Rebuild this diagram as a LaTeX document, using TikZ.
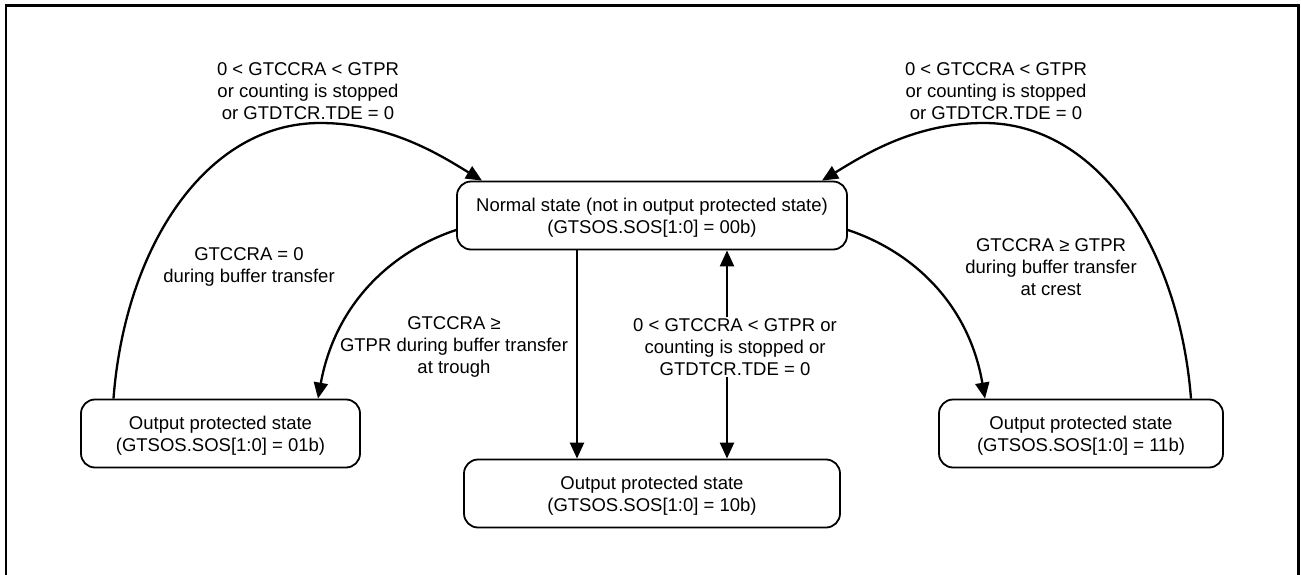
\documentclass[tikz,border=0pt]{standalone}
\usepackage{fontspec}
\setmainfont{Liberation Sans}
\usetikzlibrary{arrows.meta}

\begin{document}
\begin{tikzpicture}[x=1pt, y=1pt,
  >={Triangle[length=16pt,width=14pt]},
  state/.style={draw, line width=1.8pt, rounded corners=14pt, fill=white,
                minimum height=68pt, align=center, inner sep=0pt, text depth=0pt,
                font=\fontsize{18.5}{22}\selectfont},
  cond/.style={align=center, inner sep=1pt, font=\fontsize{18.5}{22}\selectfont},
  trans/.style={line width=2.3pt, ->},
]
\useasboundingbox (0,0) rectangle (1301,-575);
\draw[line width=2.2pt] (6,-575) -- (6,-5.5) -- (1298.5,-5.5) -- (1298.5,-575);

% states
\node[state, minimum width=390pt] (s00) at (652,-215.5) {Normal state (not in output protected state)\\(GTSOS.SOS[1:0] = 00b)};
\node[state, minimum width=279pt] (s01) at (220.5,-433.5) {Output protected state\\(GTSOS.SOS[1:0] = 01b)};
\node[state, minimum width=376pt] (s10) at (652,-493.5) {Output protected state\\(GTSOS.SOS[1:0] = 10b)};
\node[state, minimum width=284pt] (s11) at (1081,-433.5) {Output protected state\\(GTSOS.SOS[1:0] = 11b)};

% transitions
\draw[trans] ([xshift=-107pt]s01.north) .. controls (125,-247) and (206,-123) .. (320,-123)
  .. controls (390,-123) and (440,-155) .. ([xshift=-170pt]s00.north);
\draw[trans] ([xshift=110pt]s11.north) .. controls (1179,-247) and (1098,-123) .. (984,-123)
  .. controls (914,-123) and (864,-155) .. ([xshift=170pt]s00.north);
\draw[trans] ([yshift=-14.5pt]s00.west) .. controls (390,-252) and (335,-305) .. ([xshift=97.5pt]s01.north);
\draw[trans] ([yshift=-14.5pt]s00.east) .. controls (914,-252) and (969,-305) .. ([xshift=-96pt]s11.north);
\draw[trans] ([xshift=-75pt]s00.south) -- ([xshift=-75pt]s10.north);
\draw[trans, <->] ([xshift=75pt]s00.south) -- ([xshift=75pt]s10.north);

% conditions
\node[cond] (c1) at (308,-91) {0 < GTCCRA < GTPR\\or counting is stopped\\or GTDTCR.TDE = 0};
\node[cond] (c2) at (996,-91) {0 < GTCCRA < GTPR\\or counting is stopped\\or GTDTCR.TDE = 0};
\node[cond] (c3) at (249,-267) {GTCCRA = 0\\during buffer transfer};
\node[cond] (c4) at (454,-347) {GTCCRA ≥\\GTPR during buffer transfer\\at trough};
\node[cond] (c5) at (1051,-267) {GTCCRA ≥ GTPR\\during buffer transfer\\at crest};
\node[cond, fill=white] (c6) at (735,-347) {0 < GTCCRA < GTPR or\\counting is stopped or\\GTDTCR.TDE = 0};
\end{tikzpicture}
\end{document}
